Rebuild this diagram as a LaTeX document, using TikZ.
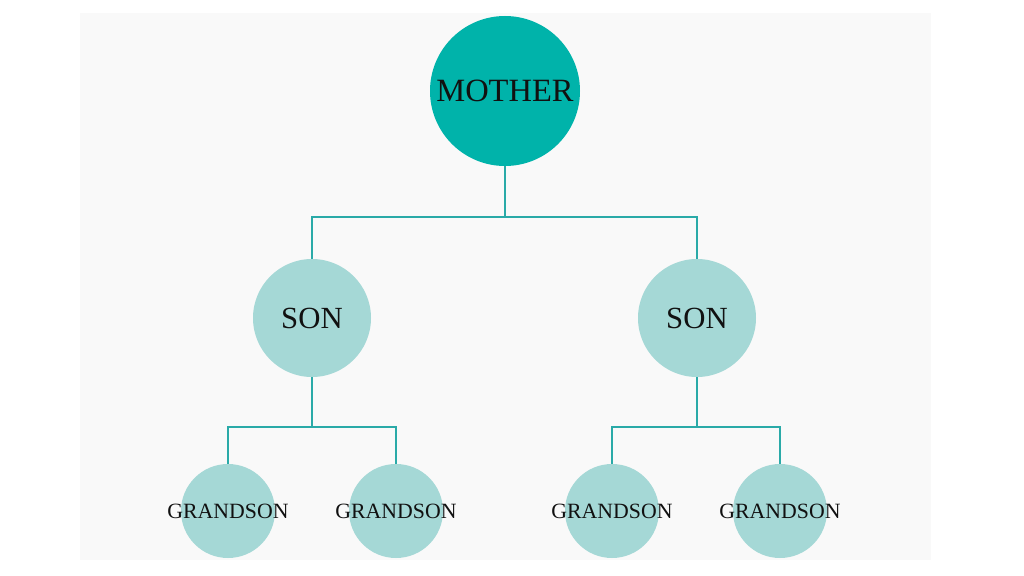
\documentclass[tikz,border=0pt]{standalone}
\usepackage{fontspec}
\setmainfont{Liberation Serif}
\definecolor{motherfill}{RGB}{0,179,170}
\definecolor{sonfill}{RGB}{165,216,214}
\definecolor{linkcol}{RGB}{42,170,168}
\definecolor{paper}{RGB}{249,249,249}
\definecolor{ink}{RGB}{17,17,17}
\begin{document}
\begin{tikzpicture}[member/.style={circle,inner sep=0pt,draw=none},
  mum/.style={member,fill=motherfill,minimum size=3cm},
  son/.style={member,fill=sonfill,minimum size=2.36cm},
  gson/.style={member,fill=sonfill,minimum size=1.88cm},
  lbl/.style={text=ink,font=\fontsize{#1}{#1}\selectfont}]
\useasboundingbox (0,0) rectangle (20.48,-11.52);
\fill[paper] (1.6,-0.27) rectangle (18.62,-11.2);

\path
(10.1,-1.82) node [mum,label={[lbl=18.5pt]center:MOTHER}] (mother) {}
(6.24,-6.36) node [son,label={[lbl=17.5pt]center:SON}] (sonL) {}
(13.94,-6.36) node [son,label={[lbl=17.5pt]center:SON}] (sonR) {}
(4.56,-10.22) node [gson,label={[lbl=12.4pt]center:GRANDSON}] (gsA) {}
(7.92,-10.22) node [gson,label={[lbl=12.4pt]center:GRANDSON}] (gsB) {}
(12.24,-10.22) node [gson,label={[lbl=12.4pt]center:GRANDSON}] (gsC) {}
(15.6,-10.22) node [gson,label={[lbl=12.4pt]center:GRANDSON}] (gsD) {}
;
\coordinate (barTop) at (10.1,-4.34);
\coordinate (barL) at (6.24,-8.54);
\coordinate (barR) at (13.94,-8.54);

\begin{scope}[every path/.style=draw,linkcol,line width=1.5pt]
\path (mother) -- (barTop);
\path (sonL) |- (barTop) -| (sonR);

\path (sonL) -- (barL);
\path (gsA) |- (barL) -| (gsB);

\path (sonR) -- (barR);
\path (gsC) |- (barR) -| (gsD);
\end{scope}
\end{tikzpicture}
\end{document}
